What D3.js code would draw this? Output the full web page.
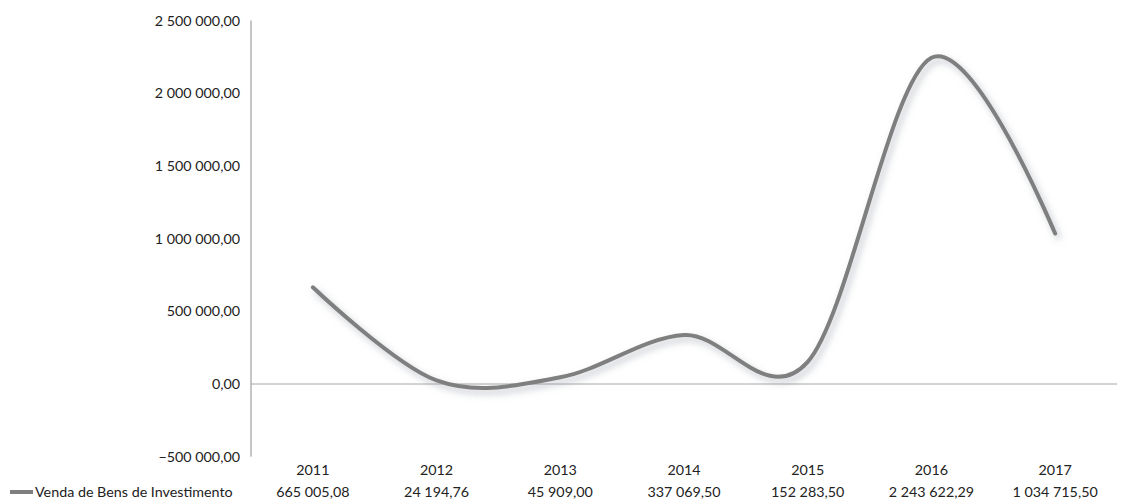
<!DOCTYPE html>
<html><head><meta charset="utf-8">
<script src="https://cdn.jsdelivr.net/npm/d3@7"></script>
<style>body{margin:0;background:#fff}svg{display:block}text{font-family:Lato,"Open Sans",sans-serif;fill:#222}</style>
</head><body>
<svg id="c" width="1128" height="502"></svg>
<script>
const categories = ["2011","2012","2013","2014","2015","2016","2017"];
const seriesName = "Venda de Bens de Investimento";
const values = [665005.08, 24194.76, 45909.00, 337069.50, 152283.50, 2243622.29, 1034715.50];
const yTicks = [-500000, 0, 500000, 1000000, 1500000, 2000000, 2500000];

const loc = d3.formatLocale({decimal:",", thousands:"\u202F", grouping:[3], currency:["",""]});
const fmt = v => loc.format(",.2f")(v).replace(/\u202F/g," ");
const FS = "14.3px";

const svg = d3.select("#c");
const x = d3.scaleBand().domain(categories).range([251, 1117]);
const y = d3.scaleLinear().domain([-500000, 2500000]).range([456.7, 20.5]);

const defs = svg.append("defs");
const f = defs.append("filter").attr("id","sh").attr("x","-20%").attr("y","-20%").attr("width","140%").attr("height","140%");
f.append("feDropShadow").attr("dx",3).attr("dy",4).attr("stdDeviation",3.5).attr("flood-color","#8a93a0").attr("flood-opacity",0.55);

// y axis labels
svg.append("g").selectAll("text").data(yTicks).join("text")
  .attr("x", 240).attr("y", d => y(d) + 5).attr("text-anchor","end")
  .style("font-size",FS).text(d => fmt(d));

// y axis line
svg.append("line").attr("x1",251).attr("x2",251).attr("y1",y(2500000)).attr("y2",y(-500000))
  .attr("stroke","#8c8c8c").attr("stroke-width",1);
// zero line
svg.append("line").attr("x1",251).attr("x2",1117).attr("y1",y(0)).attr("y2",y(0))
  .attr("stroke","#a6a6a6").attr("stroke-width",1);

// line
const line = d3.line().x((d,i)=>x(categories[i])+x.bandwidth()/2).y(d=>y(d)).curve(d3.curveCardinal.tension(0));
svg.append("path").datum(values).attr("d",line).attr("fill","none")
  .attr("stroke","#7f7f7f").attr("stroke-width",4).attr("stroke-linecap","round").attr("filter","url(#sh)");

// category labels
svg.append("g").selectAll("text").data(categories).join("text")
  .attr("x", d => x(d)+x.bandwidth()/2).attr("y", 475).attr("text-anchor","middle")
  .style("font-size",FS).text(d=>d);

// data table row
svg.append("line").attr("x1",10).attr("x2",33).attr("y1",492).attr("y2",492).attr("stroke","#7f7f7f").attr("stroke-width",4);
svg.append("text").attr("x",35).attr("y",497).style("font-size",FS).text(seriesName);
svg.append("g").selectAll("text").data(values).join("text")
  .attr("x",(d,i)=>x(categories[i])+x.bandwidth()/2).attr("y",497).attr("text-anchor","middle")
  .style("font-size",FS).text(d=>fmt(d));
</script>
</body></html>
